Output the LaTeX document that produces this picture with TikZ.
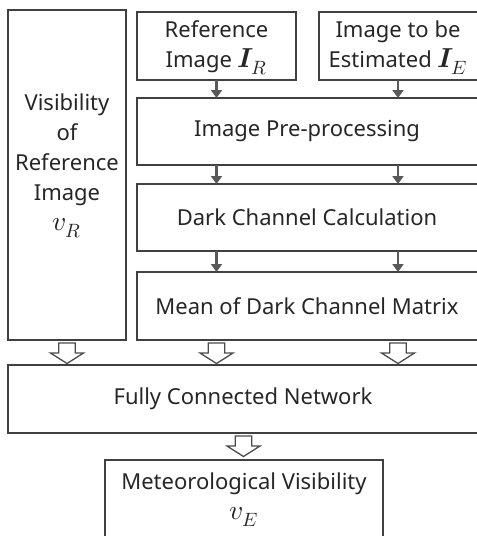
\documentclass[tikz,border=0pt]{standalone}
\usepackage{fontspec}
\usepackage{unicode-math}
\setmainfont{Noto Sans}
\setmathfont{Latin Modern Math}[Scale=1.25]
\usetikzlibrary{arrows.meta}
\begin{document}
\begin{tikzpicture}[x=1pt,y=-1pt,
  box/.style={draw=black!75, line width=1.3pt},
  lbl/.style={text=black!85, font=\fontsize{22}{30}\selectfont, align=center, inner sep=0pt},
  small/.style={draw=black!65, line width=2.6pt, -{Triangle[length=8pt,width=11pt]}},
  blk/.pic={\draw[line width=1.3pt, draw=black!70, fill=white, line join=miter]
     (-8.3,0) -- (8.3,0) -- (8.3,10) -- (16.5,10) -- (0,20.5) -- (-16.5,10) -- (-8.3,10) -- cycle;}]
\useasboundingbox (0,0) rectangle (477,536);
\clip (0,0) rectangle (477,536);
% boxes
\draw[box] (8,10) rectangle (126,340);
\draw[box] (137,12) rectangle (296,80);
\draw[box] (319,12) rectangle (478,80);
\draw[box] (137,98) rectangle (478,165);
\draw[box] (137,184) rectangle (478,251);
\draw[box] (137,272) rectangle (478,340);
\draw[box] (8,365) rectangle (478,433);
\draw[box] (105,460) rectangle (383,545);
% texts
\node[lbl] (vistxt) at (67,166) {Visibility\\of\\Reference\\Image\\$v_R$};
\node[lbl] (ref) at (216.5,48) {Reference\\Image $\symbfit{I}_R$};
\node[lbl] (est) at (398,48) {Image to be\\Estimated $\symbfit{I}_E$};
\node[lbl] (pre) at (307,131.5) {Image Pre-processing};
\node[lbl] (dark) at (307,217.5) {Dark Channel Calculation};
\node[lbl] (mean) at (307,306) {Mean of Dark Channel Matrix};
\node[lbl] (fcn) at (243,399) {Fully Connected Network};
\node[lbl] (met) at (244,500) {Meteorological Visibility\\$v_E$};
% small arrows
\coordinate (r1) at (216.5,80); \coordinate (r2) at (216.5,98);
\coordinate (e1) at (398,80); \coordinate (e2) at (398,98);
\coordinate (r3) at (216.5,165); \coordinate (r4) at (216.5,184);
\coordinate (e3) at (398,165); \coordinate (e4) at (398,184);
\coordinate (r5) at (216.5,251); \coordinate (r6) at (216.5,272);
\coordinate (e5) at (398,251); \coordinate (e6) at (398,272);
\draw[small] (r1) -- (r2);
\draw[small] (e1) -- (e2);
\draw[small] (r3) -- (r4);
\draw[small] (e3) -- (e4);
\draw[small] (r5) -- (r6);
\draw[small] (e5) -- (e6);
% block arrows
\pic at (67,343) {blk};
\pic at (216.5,343) {blk};
\pic at (398,343) {blk};
\pic at (243.5,436) {blk};
\end{tikzpicture}
\end{document}
